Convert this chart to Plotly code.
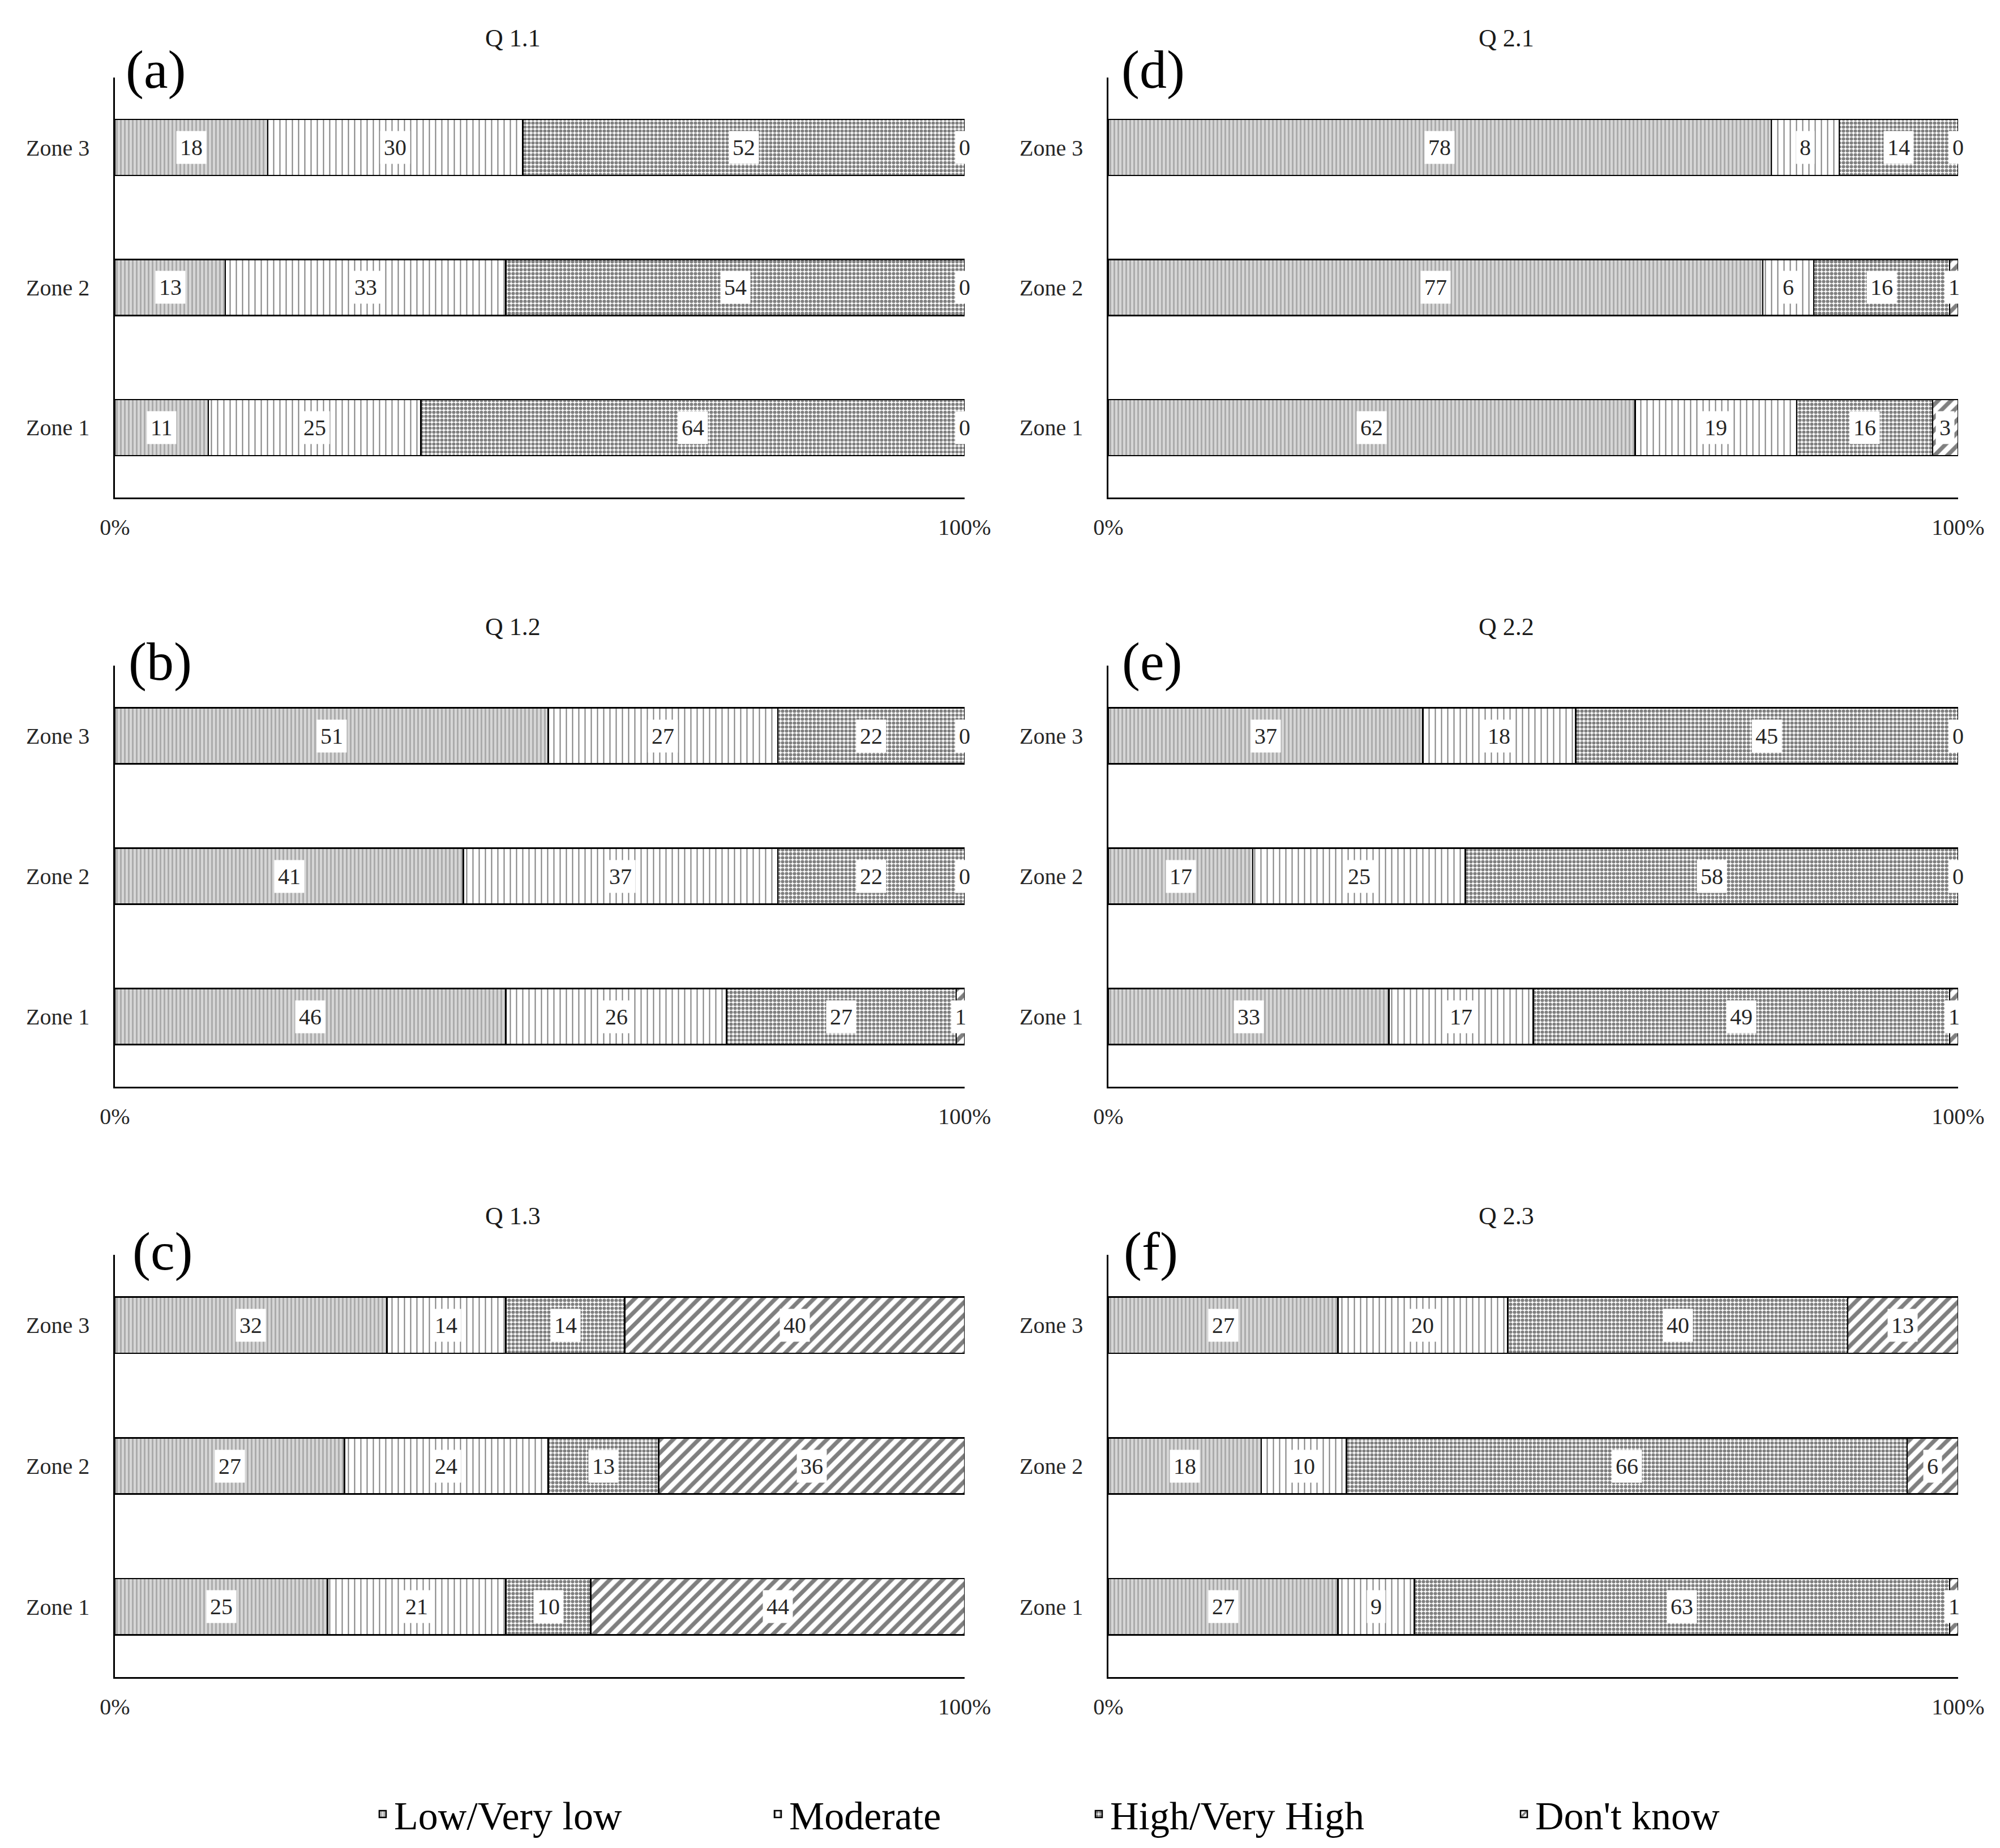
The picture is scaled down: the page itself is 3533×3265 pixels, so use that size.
import plotly.graph_objects as go

# ---------------- data ----------------
zones = ["Zone 1", "Zone 2", "Zone 3"]
categories = ["Low/Very low", "Moderate", "High/Very High", "Don't know"]
questions = ["Q 1.1", "Q 1.2", "Q 1.3", "Q 2.1", "Q 2.2", "Q 2.3"]
panel_letters = ["(a)", "(b)", "(c)", "(d)", "(e)", "(f)"]
x_tick_vals = [0, 100]
x_tick_labels = ["0%", "100%"]

# each list ordered Zone 1, Zone 2, Zone 3
q11_low = [11, 13, 18]
q11_mod = [25, 33, 30]
q11_high = [64, 54, 52]
q11_dk = [0, 0, 0]

q12_low = [46, 41, 51]
q12_mod = [26, 37, 27]
q12_high = [27, 22, 22]
q12_dk = [1, 0, 0]

q13_low = [25, 27, 32]
q13_mod = [21, 24, 14]
q13_high = [10, 13, 14]
q13_dk = [44, 36, 40]

q21_low = [62, 77, 78]
q21_mod = [19, 6, 8]
q21_high = [16, 16, 14]
q21_dk = [3, 1, 0]

q22_low = [33, 17, 37]
q22_mod = [17, 25, 18]
q22_high = [49, 58, 45]
q22_dk = [1, 0, 0]

q23_low = [27, 18, 27]
q23_mod = [9, 10, 20]
q23_high = [63, 66, 40]
q23_dk = [1, 6, 13]

panel_data = [
    [q11_low, q11_mod, q11_high, q11_dk],
    [q12_low, q12_mod, q12_high, q12_dk],
    [q13_low, q13_mod, q13_high, q13_dk],
    [q21_low, q21_mod, q21_high, q21_dk],
    [q22_low, q22_mod, q22_high, q22_dk],
    [q23_low, q23_mod, q23_high, q23_dk],
]

# ---------------- styling / layout ----------------
W, H = 3533, 3265
PAGE_OFFSET = 8  # default body margin of the html page
FONT = "Liberation Serif"

patterns = [
    dict(shape="|", fgcolor="#7c7c7c", bgcolor="#d6d6d6", size=7, solidity=0.4),
    dict(shape="|", fgcolor="#000000", bgcolor="#ffffff", size=11, solidity=0.18),
    dict(shape=".", fgcolor="#000000", bgcolor="#ffffff", size=7, solidity=0.6),
    dict(shape="/", fgcolor="#000000", bgcolor="#ffffff", size=16, solidity=0.45),
]
legend_names = ["legend", "legend2", "legend3", "legend4"]
legend_text_start_px = [698, 1396, 1963, 2714]

# pixel geometry of the plot areas (left, right, top, bottom)
col_px = [(203, 1704), (1958, 3459)]
row_px = [(137, 879), (1176, 1920), (2217, 2963)]
# panel order: a,b,c (left col rows 1-3), d,e,f (right col rows 1-3)
panel_pos = [(0, 0), (1, 0), (2, 0), (0, 1), (1, 1), (2, 1)]
title_x_px = [906, 2661]
title_y_px = [68, 1107, 2148]
letter_x_px = [[275, 283, 287], [2037, 2035, 2033]]
letter_y_px = [123, 1168, 2210]


def px_x(p):
    return (p - PAGE_OFFSET) / W


def px_y(p):
    return 1 - (p - PAGE_OFFSET) / H


fig = go.Figure()
annotations = []
layout_axes = {}

for i, data in enumerate(panel_data):
    n = i + 1
    r, c = panel_pos[i]
    xs = "x" if n == 1 else f"x{n}"
    ys = "y" if n == 1 else f"y{n}"
    xl = "xaxis" if n == 1 else f"xaxis{n}"
    yl = "yaxis" if n == 1 else f"yaxis{n}"
    l, rr = col_px[c]
    t, b = row_px[r]
    layout_axes[xl] = dict(
        domain=[px_x(l), px_x(rr)], anchor=ys, range=[0, 100],
        tickvals=x_tick_vals, ticktext=x_tick_labels,
        showgrid=True, gridcolor="#d9d9d9", gridwidth=3,
        zeroline=False, showline=True, linecolor="#000000", linewidth=3,
        ticks="", ticklabelstandoff=15, automargin=False, fixedrange=True,
        tickfont=dict(family=FONT, size=40, color="#262626"),
    )
    layout_axes[yl] = dict(
        domain=[px_y(b), px_y(t)], anchor=xs, type="category",
        categoryorder="array", categoryarray=zones, range=[-0.5, 2.5],
        showgrid=False, zeroline=False, showline=True, linecolor="#000000",
        linewidth=2.5, ticks="", ticklabelstandoff=34, automargin=False,
        tickfont=dict(family=FONT, size=40, color="#262626"),
    )
    for k, vals in enumerate(data):
        fig.add_trace(go.Bar(
            x=vals, y=zones, orientation="h", name=categories[k],
            xaxis=xs, yaxis=ys,
            marker=dict(color=patterns[k]["bgcolor"], pattern=patterns[k],
                        line=dict(color="#000000", width=2.5)),
            showlegend=(n == 1), legend=legend_names[k],
            hoverinfo="skip",
        ))
    # data labels with white boxes
    for j, z in enumerate(zones):
        cum = 0
        for k in range(4):
            v = data[k][j]
            annotations.append(dict(
                x=cum + v / 2, y=z, xref=xs, yref=ys, text=str(v),
                showarrow=False, bgcolor="#ffffff", borderpad=6,
                font=dict(family=FONT, size=40, color="#262626"),
            ))
            cum += v
    # subplot title
    annotations.append(dict(
        x=px_x(title_x_px[c]), y=px_y(title_y_px[r]), xref="paper", yref="paper",
        text=questions[i], showarrow=False, xanchor="center", yanchor="middle",
        font=dict(family=FONT, size=44, color="#1a1a1a"),
    ))
    # panel letter
    annotations.append(dict(
        x=px_x(letter_x_px[c][r]), y=px_y(letter_y_px[r]), xref="paper", yref="paper",
        text=panel_letters[i], showarrow=False, xanchor="center", yanchor="middle",
        font=dict(family=FONT, size=96, color="#000000"),
    ))

legend_layouts = {}
for k, ln in enumerate(legend_names):
    legend_layouts[ln] = dict(
        x=px_x(legend_text_start_px[k] - 42), y=px_y(3205),
        xanchor="left", yanchor="middle", orientation="h",
        font=dict(family=FONT, size=70, color="#000000"),
        bgcolor="rgba(0,0,0,0)", borderwidth=0,
    )

fig.update_layout(
    width=W, height=H,
    margin=dict(l=0, r=0, t=0, b=0),
    paper_bgcolor="#ffffff", plot_bgcolor="#ffffff",
    barmode="stack", bargap=0.6,
    annotations=annotations,
    font=dict(family=FONT),
    **layout_axes,
    **legend_layouts,
)

fig.write_html("out.html")
